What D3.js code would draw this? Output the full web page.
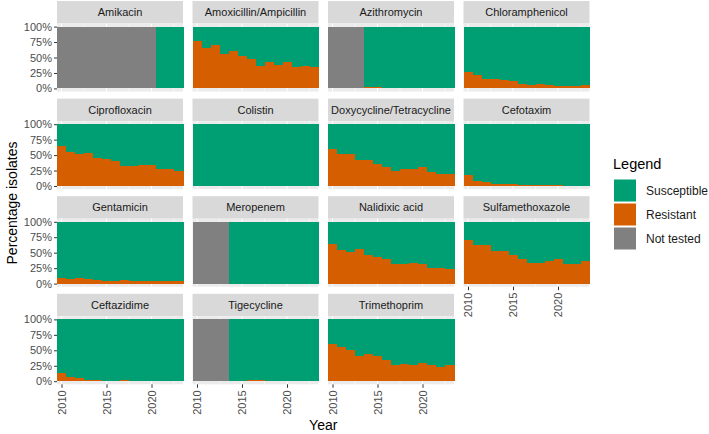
<!DOCTYPE html>
<html>
<head>
<meta charset="utf-8">
<script src="https://cdn.jsdelivr.net/npm/d3@7"></script>
<style>
  body { margin: 0; background: #fff; }
  text { font-family: "Liberation Sans", Arial, sans-serif; }
</style>
</head>
<body>
<svg id="chart"></svg>
<script>
// Years on the x axis
const years = [2010, 2011, 2012, 2013, 2014, 2015, 2016, 2017, 2018, 2019, 2020, 2021, 2022, 2023];

// Percentage resistant per year (null = not tested), rest is susceptible
const amikacin         = [null, null, null, null, null, null, null, null, null, null, null, 0, 0, 0];
const amoxicillin      = [76, 65, 70, 56, 61, 53, 48, 36, 43, 38, 42, 35, 36, 34];
const azithromycin     = [null, null, null, null, 1.5, 1.5, 0.3, 0, 0, 0.3, 0.8, 0.5, 0.3, 0.3];
const chloramphenicol  = [26, 21, 16, 15, 14, 11.5, 7.5, 6, 6.5, 5.5, 4.5, 4, 4, 5];
const ciprofloxacin    = [65, 55, 51, 54, 46, 44, 41, 33, 32, 34, 34, 27, 28, 25];
const colistin         = [0.5, 0.5, 0.5, 0.5, 0, 0, 0, 0, 0, 0, 0, 0, 0, 0];
const doxycycline      = [60, 52, 51, 42, 42, 36, 30, 24, 28, 28, 30, 23, 19, 19];
const cefotaxim        = [18, 8, 6, 3, 2.5, 2.5, 2, 2, 1.5, 1.5, 1, 0.8, 0.8, 0.8];
const gentamicin       = [9, 7.5, 8.5, 7.5, 6.5, 4.5, 4.5, 5.5, 5, 5, 3.5, 3.5, 4, 5];
const meropenem        = [null, null, null, null, 0, 0, 0, 0, 0, 0, 0, 0, 0, 0];
const nalidixic        = [64, 55, 51, 56, 46, 43, 40, 32, 31, 34, 32, 26, 25, 23];
const sulfamethoxazole = [71, 62, 62, 52, 53, 46, 40, 34, 34, 36, 40, 32, 32, 37];
const ceftazidime      = [13.5, 6.5, 4.5, 2.5, 1.5, 1, 1, 1.5, 0.5, 0.3, 0.3, 0.3, 0.3, 0.3];
const tigecycline      = [null, null, null, null, 0, 0, 1.5, 2.5, 0, 0, 0, 0, 0, 0];
const trimethoprim     = [60, 55, 50, 40, 44, 41, 35, 26, 28, 26, 29, 26, 23, 26];

const panelNames = ['Amikacin', 'Amoxicillin/Ampicillin', 'Azithromycin', 'Chloramphenicol',
                    'Ciprofloxacin', 'Colistin', 'Doxycycline/Tetracycline', 'Cefotaxim',
                    'Gentamicin', 'Meropenem', 'Nalidixic acid', 'Sulfamethoxazole',
                    'Ceftazidime', 'Tigecycline', 'Trimethoprim'];
const panelValues = [amikacin, amoxicillin, azithromycin, chloramphenicol,
                     ciprofloxacin, colistin, doxycycline, cefotaxim,
                     gentamicin, meropenem, nalidixic, sulfamethoxazole,
                     ceftazidime, tigecycline, trimethoprim];

const legendLabels = ['Susceptible', 'Resistant', 'Not tested'];
const yTicks = [0, 25, 50, 75, 100];
const xTicks = [2010, 2015, 2020];

const colors = { 'Susceptible': '#009E73', 'Resistant': '#D55E00', 'Not tested': '#808080' };

function drawChart() {
    const W = 709, H = 434;
    const left = 57, colStep = 135.5, pw = 126;
    const top0 = 1, rowStep = 97.6, stripH = 22.5, ph = 68;

    const svg = d3.select('#chart').attr('width', W).attr('height', H);

    const x = d3.scaleLinear().domain([2009.5, 2023.5]).range([0, pw]);
    // ggplot default 5% expansion on y
    const y = d3.scaleLinear().domain([-5, 105]).range([ph, 0]);

    panelNames.forEach((name, i) => {
        const col = i % 4, row = Math.floor(i / 4);
        const px = left + col * colStep;
        const sy = top0 + row * rowStep;
        const py = sy + stripH;

        // strip
        svg.append('rect')
           .attr('x', px).attr('y', sy).attr('width', pw).attr('height', stripH)
           .attr('fill', '#D9D9D9');
        svg.append('text')
           .attr('x', px + pw / 2).attr('y', sy + stripH / 2 + 4)
           .attr('text-anchor', 'middle')
           .style('font-size', '11px')
           .style('fill', '#1A1A1A')
           .text(name);

        const g = svg.append('g').attr('transform', `translate(${px},${py})`);
        g.append('rect').attr('width', pw).attr('height', ph).attr('fill', '#EBEBEB');

        // grid
        [2012.5, 2017.5, 2022.5].forEach(v => g.append('line')
            .attr('x1', x(v)).attr('x2', x(v)).attr('y1', 0).attr('y2', ph)
            .attr('stroke', '#fff').attr('stroke-width', 0.5));
        xTicks.forEach(v => g.append('line')
            .attr('x1', x(v)).attr('x2', x(v)).attr('y1', 0).attr('y2', ph)
            .attr('stroke', '#fff').attr('stroke-width', 1));

        // stacked bars
        const vals = panelValues[i];
        const rows = years.map((yr, k) => {
            const r = vals[k];
            if (r === null) return { year: yr, parts: [['Not tested', 0, 100]] };
            return { year: yr, parts: [['Resistant', 0, r], ['Susceptible', r, 100]] };
        });
        const bars = g.append('g').attr('shape-rendering', 'crispEdges');
        rows.forEach(d => {
            d.parts.forEach(([key, y0, y1]) => {
                if (y1 - y0 <= 0) return;
                bars.append('rect')
                 .attr('x', x(d.year - 0.5))
                 .attr('width', x(d.year + 0.5) - x(d.year - 0.5) + 0.6)
                 .attr('y', y(y1))
                 .attr('height', y(y0) - y(y1))
                 .attr('fill', colors[key]);
            });
        });

        // y axis on first column
        if (col === 0) {
            const ax = g.append('g')
                .call(d3.axisLeft(y).tickValues(yTicks).tickFormat(d => d + '%').tickSize(3).tickPadding(2));
            ax.select('.domain').remove();
            ax.selectAll('line').attr('stroke', '#333');
            ax.selectAll('text').style('font-size', '11px').style('fill', '#4D4D4D');
        }

        // x axis on bottom panel of each column
        const isBottom = (row === 3) || (row === 2 && col === 3);
        if (isBottom) {
            const ax = g.append('g')
                .attr('transform', `translate(0,${ph})`)
                .call(d3.axisBottom(x).tickValues(xTicks).tickFormat(d3.format('d')).tickSize(3.5));
            ax.select('.domain').remove();
            ax.selectAll('line').attr('stroke', '#333');
            ax.selectAll('text')
              .style('font-size', '11px').style('fill', '#4D4D4D')
              .attr('text-anchor', 'end')
              .attr('transform', 'rotate(-90)')
              .attr('x', -6).attr('y', 0).attr('dy', '0.35em');
        }
    });

    // axis titles
    svg.append('text')
       .attr('x', left + (3 * colStep + pw) / 2).attr('y', 430)
       .attr('text-anchor', 'middle')
       .style('font-size', '14px').style('fill', '#000')
       .text('Year');
    svg.append('text')
       .attr('transform', 'rotate(-90)')
       .attr('x', -203).attr('y', 17)
       .attr('text-anchor', 'middle')
       .style('font-size', '14px').style('fill', '#000')
       .text('Percentage isolates');

    // legend
    svg.append('text')
       .attr('x', 613).attr('y', 169)
       .style('font-size', '14.5px').style('fill', '#000')
       .text('Legend');
    legendLabels.forEach((lab, k) => {
        const ky = 179.5 + k * 24;
        svg.append('rect')
           .attr('x', 614).attr('y', ky).attr('width', 22).attr('height', 22)
           .attr('fill', colors[lab]);
        svg.append('text')
           .attr('x', 646).attr('y', ky + 11 + 4)
           .style('font-size', '12px').style('fill', '#1A1A1A')
           .text(lab);
    });
}

document.addEventListener('DOMContentLoaded', drawChart);
</script>
</body>
</html>
